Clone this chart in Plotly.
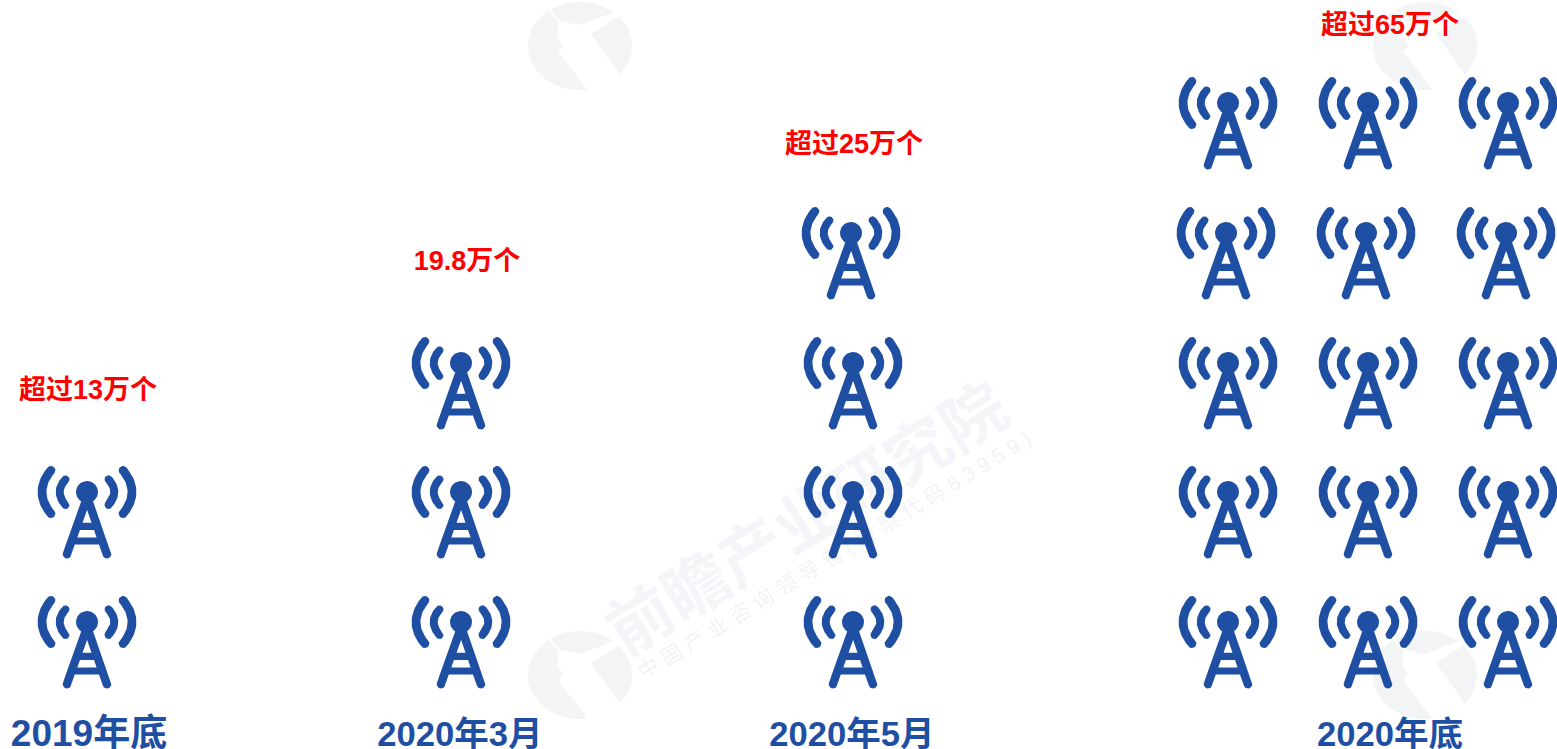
import numpy as np
import plotly.graph_objects as go

# ---- chart data ----
categories = ["2019年底", "2020年3月", "2020年5月", "2020年底"]
value_labels = ["超过13万个", "19.8万个", "超过25万个", "超过65万个"]
icon_rows = [2, 3, 4, 5]
icon_cols = [1, 1, 1, 3]

# ---- layout constants (pixels on the axes) ----
W, H = 1557, 749
PLOT_H = 710
BLUE = "#1f4fa3"
RED = "#ff0000"
FONT = "Liberation Sans, Noto Sans CJK SC, sans-serif"
column_x = [[87], [461], [853], [1228, 1368, 1508]]
row_y = [622, 492, 363, 233, 103]
row_dx = [0, 0, 0, -2, 0]
category_x = [89, 460, 852, 1390]
category_size = [37, 34.6, 34.6, 34.6]
label_x = [88, 467, 854, 1390]
label_y = [392, 263, 146, 27]


def oriented(pts):
    pts = np.asarray(pts, float)
    x, y = pts[:, 0], pts[:, 1]
    area = np.sum(x * np.roll(y, -1) - np.roll(x, -1) * y)
    return pts if area > 0 else pts[::-1]


def stroke(center_line, width):
    """Outline polygon of a round-capped stroke along a polyline."""
    p = np.asarray(center_line, float)
    d = np.gradient(p, axis=0)
    d /= np.linalg.norm(d, axis=1, keepdims=True)
    n = np.column_stack([-d[:, 1], d[:, 0]])
    r = width / 2
    a = p + n * r
    b = (p - n * r)[::-1]
    def cap(c, start):
        t = np.linspace(0, np.pi, 10)[1:-1]
        return np.column_stack([c[0] + r * np.cos(start - t), c[1] + r * np.sin(start - t)])
    ang_end = np.arctan2(n[-1, 1], n[-1, 0])
    ang_start = np.arctan2(-n[0, 1], -n[0, 0])
    return oriented(np.vstack([a, cap(p[-1], ang_end), b, cap(p[0], ang_start)]))


def arc3(p0, pm, p1, k=24):
    """Quadratic curve through three points."""
    p0, pm, p1 = map(lambda v: np.array(v, float), (p0, pm, p1))
    c = 2 * pm - (p0 + p1) / 2
    t = np.linspace(0, 1, k)[:, None]
    return (1 - t) ** 2 * p0 + 2 * t * (1 - t) * c + t ** 2 * p1


def tower_parts():
    parts = []
    t = np.linspace(0, 2 * np.pi, 40, endpoint=False)
    parts.append(oriented(np.column_stack([11 * np.cos(t), 11 * np.sin(t)])))
    for s in (-1, 1):
        parts.append(stroke(arc3((s * 36, -21.7), (s * 45, 0), (s * 36, 21.7)), 8.8))
        parts.append(stroke(arc3((s * 21.5, -12.7), (s * 27.3, 0), (s * 21.5, 13)), 8))
        parts.append(stroke(np.linspace((s * 1, 8), (s * 20, 62.3), 8), 8.6))
    for yc in (34.3, 49):
        xh = 0.351 * (yc + 3.5 - 8) + 1
        parts.append(oriented([(-xh, yc - 3.6), (xh, yc - 3.6), (xh, yc + 3.6), (-xh, yc + 3.6)]))
    return parts


TOWER = tower_parts()


def assemble(polys):
    xs, ys = [], []
    for poly in polys:
        xs += list(poly[:, 0]) + [poly[0, 0], None]
        ys += list(poly[:, 1]) + [poly[0, 1], None]
    return xs, ys


def ellipse_arc(a0, a1, rx=52, ry=44, k=30):
    a = np.radians(np.linspace(a0, a1, k))
    return np.column_stack([rx * np.cos(a), ry * np.sin(a)])


LOGO = [
    oriented(np.vstack([ellipse_arc(233, 82, k=40), [(-22, 5), (-17, 0), (-23, -10), (-21, -23)]])),
    oriented(np.vstack([ellipse_arc(-125, -50), [(0, -21), (-20, -25)]])),
    oriented(np.vstack([[(11, -12)], ellipse_arc(-42, 40)])),
]

watermark_logos = [(580, 675), (580, 46), (1425, 675), (1425, 46)]
watermark_text = [(-300, 678), (580, 673), (580, 45), (1425, 673), (1425, 45)]
WM_LOGO = "rgba(30,60,110,0.06)"
WM = "rgba(30,60,110,0.05)"
WM_SUB = "rgba(30,60,110,0.08)"

fig = go.Figure()

# watermark logos: paper-referenced shapes, so they can run past the plot area
shapes = []
for c in watermark_logos:
    for poly in LOGO:
        pts = poly + np.array(c)
        path = "M" + " L".join(f"{x / W:.5f},{(PLOT_H - y) / PLOT_H:.5f}" for x, y in pts) + " Z"
        shapes.append(dict(type="path", path=path, xref="paper", yref="paper", layer="below",
                           fillcolor=WM_LOGO, line=dict(width=0)))

# tower icons
for i, cat in enumerate(categories):
    polys = []
    for r in range(icon_rows[i]):
        for c in range(icon_cols[i]):
            origin = np.array([column_x[i][c] + row_dx[r], row_y[r]])
            polys += [poly + origin for poly in TOWER]
    xs, ys = assemble(polys)
    fig.add_trace(go.Scatter(x=xs, y=ys, mode="lines", fill="toself", fillcolor=BLUE,
                             line=dict(width=0, color=BLUE), name=cat, showlegend=False,
                             hoverinfo="skip"))

# value labels
fig.add_trace(go.Scatter(x=label_x, y=label_y, mode="text", text=value_labels,
                         textposition="middle center", cliponaxis=False,
                         textfont=dict(family=FONT, size=27, color=RED, weight="bold"),
                         showlegend=False, hoverinfo="skip"))

annotations = []
main = "前瞻产业研究院"
sub = " ".join("中国产业咨询领导者(股票代码83959)")
for cx, cy in watermark_text:
    annotations.append(dict(x=cx + 227, y=cy - 154, text=main, showarrow=False, textangle=-31.4,
                            font=dict(family=FONT, size=65, color=WM, weight="bold"),
                            xref="x", yref="y"))
    annotations.append(dict(x=cx + 254, y=cy - 118, text=sub, showarrow=False, textangle=-31.4,
                            font=dict(family=FONT, size=21, color=WM_SUB),
                            xref="x", yref="y"))

tick_text = [f'<span style="font-size:{s}px">{c}</span>' for c, s in zip(categories, category_size)]

fig.update_layout(
    width=W, height=H,
    margin=dict(l=0, r=0, t=0, b=H - PLOT_H, pad=0),
    paper_bgcolor="rgba(255,255,255,1)", plot_bgcolor="rgba(0,0,0,0)",
    showlegend=False,
    annotations=annotations,
    shapes=shapes,
    xaxis=dict(range=[0, W], showgrid=False, zeroline=False, showline=False, ticks="",
               tickmode="array", tickvals=category_x, ticktext=tick_text, automargin=False,
               tickfont=dict(family=FONT, size=34.6, color=BLUE, weight="bold")),
    yaxis=dict(range=[PLOT_H, 0], showgrid=False, zeroline=False, showline=False,
               showticklabels=False, automargin=False),
)

fig.write_html("out.html", config=dict(displayModeBar=False),
               post_script="document.body.style.margin='0';document.body.style.overflow='hidden';")
